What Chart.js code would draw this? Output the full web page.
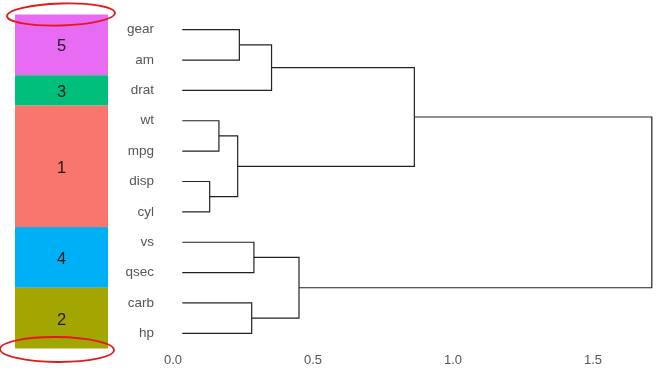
<!DOCTYPE html>
<html>
<head>
<meta charset="utf-8">
<script src="https://cdn.jsdelivr.net/npm/chart.js@4/dist/chart.umd.min.js"></script>
<style>
  html, body { margin: 0; padding: 0; background: #fff; }
  #wrap { width: 670px; height: 379px; position: relative; }
</style>
</head>
<body>
<div id="wrap"><canvas id="dendro"></canvas></div>
<script>
// leaves, top to bottom
const leafLabels = ['gear', 'am', 'drat', 'wt', 'mpg', 'disp', 'cyl', 'vs', 'qsec', 'carb', 'hp'];
const leafStart = 0.033;

// merges (hclust style: negative = leaf number, positive = earlier merge)
const mergeLeft   = [-6, -4, 2, -1, -10, -8, 4, 6, 7, 9];
const mergeRight  = [-7, -5, 1, -2, -11, -9, -3, 5, 3, 8];
const mergeHeight = [0.131, 0.164, 0.231, 0.237, 0.281, 0.289, 0.352, 0.450, 0.862, 1.710];

// cluster colour bar
const clusterNames  = ['5', '3', '1', '4', '2'];
const clusterFirst  = [0, 2, 3, 7, 9];
const clusterLast   = [1, 2, 6, 8, 10];
const clusterColors = ['#E76BF3', '#00BF7D', '#F8766D', '#00B0F6', '#A3A500'];

const xTicks = [0, 0.5, 1.0, 1.5];

// build elbow segments from the merge table
const nodeX = [], nodeY = [];
const pos = function(ref) {
	if (ref < 0)
		return { x: leafStart, y: -ref - 1 };
	return { x: nodeX[ref - 1], y: nodeY[ref - 1] };
};
const datasets = [];
mergeHeight.forEach((h, i) => {
	let a = pos(mergeLeft[i]);
	let b = pos(mergeRight[i]);
	nodeX.push(h);
	nodeY.push((a.y + b.y) / 2);
	datasets.push({
		data: [{ x: a.x, y: a.y }, { x: h, y: a.y }, { x: h, y: b.y }, { x: b.x, y: b.y }],
		showLine: true,
		borderColor: '#222',
		borderWidth: 1.2,
		pointRadius: 0,
		tension: 0,
	});
});

const barLeft = 15, barRight = 108;

const colourBar = {
	id: 'colourBar',
	afterDraw(chart) {
		const ctx = chart.ctx;
		const y = chart.scales.y;
		clusterNames.forEach((name, i) => {
			let top = y.getPixelForValue(clusterFirst[i] - 0.5);
			let bottom = y.getPixelForValue(clusterLast[i] + 0.5);
			ctx.fillStyle = clusterColors[i];
			ctx.fillRect(barLeft, top, barRight - barLeft, bottom - top);
			ctx.fillStyle = '#1a1a1a';
			ctx.font = '16.5px "Liberation Sans", Arial, sans-serif';
			ctx.textAlign = 'center';
			ctx.textBaseline = 'middle';
			ctx.fillText(name, (barLeft + barRight) / 2, (top + bottom) / 2 + 2);
		});
		// hand drawn red marks round the ends of the bar
		const barTop = y.getPixelForValue(clusterFirst[0] - 0.5);
		const barBottom = y.getPixelForValue(clusterLast[clusterLast.length - 1] + 0.5);
		ctx.save();
		ctx.strokeStyle = '#e31a1c';
		ctx.lineWidth = 1.8;
		ctx.beginPath();
		ctx.ellipse(61, barTop, 54, 11, -0.03, 0, Math.PI * 2);
		ctx.stroke();
		ctx.beginPath();
		ctx.ellipse(57, barBottom + 1, 57, 12.5, 0.01, 0, Math.PI * 2);
		ctx.stroke();
		ctx.restore();
	}
};

new Chart(document.getElementById('dendro'), {
	type: 'scatter',
	data: { datasets: datasets },
	plugins: [colourBar],
	options: {
		responsive: true,
		maintainAspectRatio: false,
		animation: false,
		layout: { padding: { top: 14.5, right: 7, bottom: 0, left: 0 } },
		plugins: {
			legend: { display: false },
			tooltip: { enabled: false },
		},
		scales: {
			x: {
				type: 'linear',
				min: 0,
				max: 1.75,
				grid: { display: false, drawTicks: false },
				border: { display: false },
				afterBuildTicks: scale => { scale.ticks = xTicks.map(v => ({ value: v })); },
				afterFit: scale => {
					scale.height = 30.5;
					scale.paddingLeft = 0;
					scale.paddingRight = 0;
				},
				ticks: {
					padding: 4,
					color: '#555',
					font: { family: '"Liberation Sans", Arial, sans-serif', size: 13 },
					callback: v => v.toFixed(1),
				},
			},
			y: {
				type: 'linear',
				reverse: true,
				min: -0.5,
				max: 10.5,
				grid: { display: false, drawTicks: false },
				border: { display: false },
				afterBuildTicks: scale => { scale.ticks = leafLabels.map((l, i) => ({ value: i })); },
				afterFit: scale => {
					scale.width = 173;
					scale.paddingTop = 0;
					scale.paddingBottom = 0;
				},
				ticks: {
					padding: 19,
					color: '#555',
					font: { family: '"Liberation Sans", Arial, sans-serif', size: 13.5 },
					callback: v => leafLabels[v],
				},
			},
		},
	},
});
</script>
</body>
</html>
